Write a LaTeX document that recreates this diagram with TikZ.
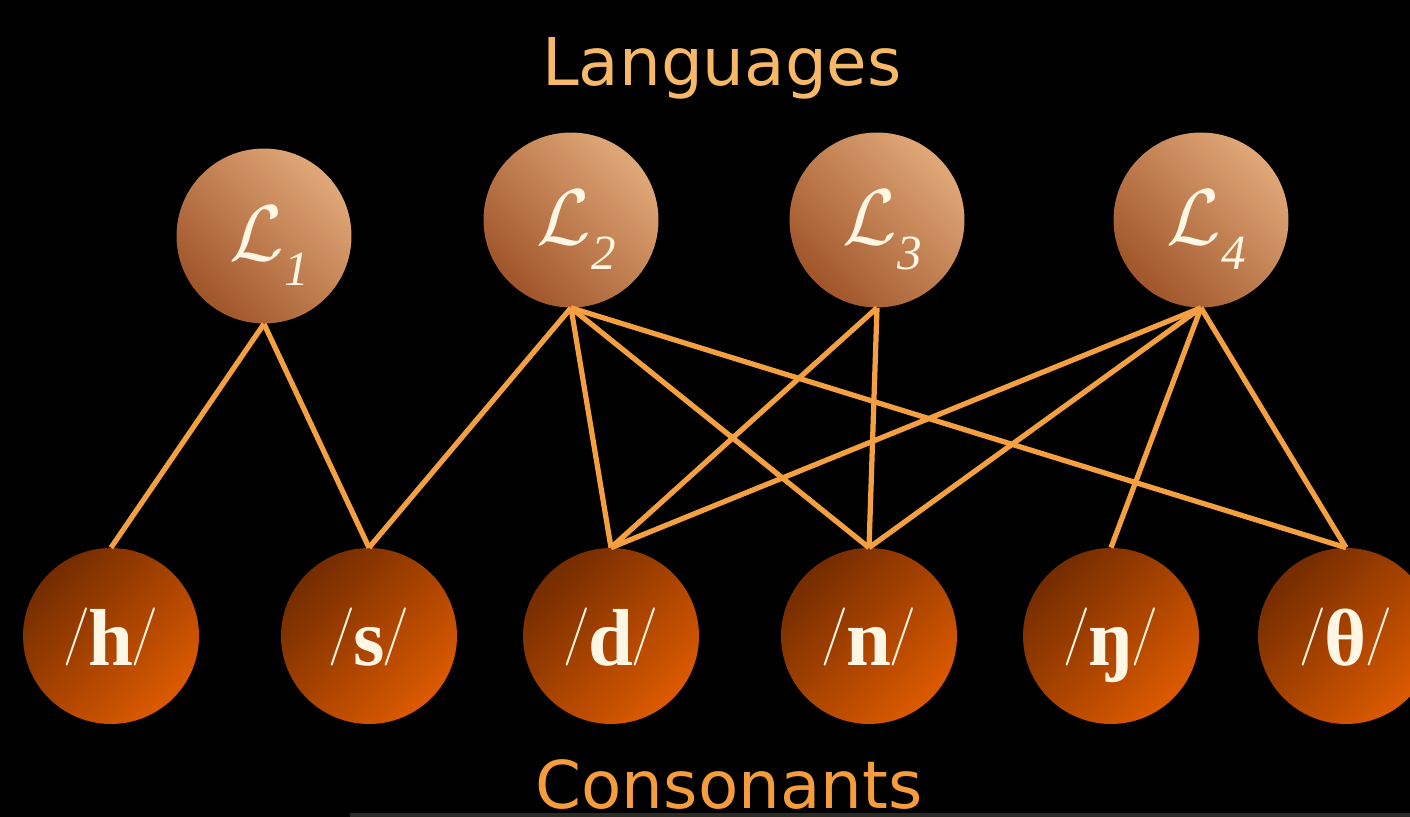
\documentclass[tikz,border=0pt]{standalone}
\usepackage{fix-cm}
\usepackage{graphicx}
\usepackage{fontspec}
\setmainfont{Liberation Serif}
\newfontfamily\labfont{DejaVu Sans}
\newfontfamily\slashfont{Latin Modern Roman}
\definecolor{langlight}{HTML}{E0A878}
\definecolor{langdark}{HTML}{A0552A}
\definecolor{consdark}{HTML}{742C00}
\definecolor{conslight}{HTML}{DC5A00}
\definecolor{cream}{HTML}{FFF6E4}
\definecolor{linkcol}{HTML}{F5A040}
\definecolor{toptext}{HTML}{F7B868}
\definecolor{bottext}{HTML}{F59C3C}
\definecolor{edgegray}{HTML}{2C2C26}
\newcommand{\langlab}[1]{\hspace*{6pt}{\fontsize{45}{45}\selectfont$\mathcal{L}$}\raisebox{-14.2pt}{\fontsize{28}{28}\selectfont\itshape #1}}
\newcommand{\thinslash}{\raisebox{0.18em}{\scalebox{0.72}{\slashfont /}}}
\newcommand{\conslab}[1]{\thinslash\kern-1pt\textbf{#1}\kern-1pt\thinslash}
\tikzset{
  lang/.style={circle, minimum size=3.5cm, inner sep=0pt, shading=axis,
    top color=langlight, bottom color=langdark, shading angle=-45,
    text=cream, text height=41.6pt, text depth=14.2pt},
  cons/.style={circle, minimum size=3.52cm, inner sep=0pt, shading=axis,
    top color=consdark, bottom color=conslight, shading angle=45,
    text=cream, font=\fontsize{46}{46}\selectfont, text height=34pt, text depth=0pt},
  link/.style={draw=linkcol, line width=0.105cm},
  heading/.style={font=\labfont\fontsize{37.5}{37.5}\selectfont, inner sep=0pt}
}
\begin{document}
\begin{tikzpicture}[x=0.02cm, y=-0.02cm]
  \fill[black] (0,0) rectangle (1410,817);
  \useasboundingbox (0,0) rectangle (1410,817);
  \fill[edgegray] (350,813) rectangle (1410,817);

  \node[heading, text=toptext, anchor=base] (top) at (722,86) {Languages};
  \node[heading, text=bottext, anchor=base] (bot) at (729,808) {Consonants};

  \node[lang] (L1) at (264,236) {\langlab{1}};
  \node[lang] (L2) at (571,220) {\langlab{2}};
  \node[lang] (L3) at (877,220) {\langlab{3}};
  \node[lang] (L4) at (1201,220) {\langlab{4}};

  \node[cons] (h) at (111,636) {\conslab{h}};
  \node[cons] (s) at (369,636) {\conslab{s}};
  \node[cons] (d) at (611,636) {\conslab{d}};
  \node[cons] (n) at (869,636) {\conslab{n}};
  \node[cons] (ng) at (1111,636) {\conslab{ŋ}};
  \node[cons] (th) at (1346,636) {\conslab{θ}};

  \draw[link] (L1.south) -- (h.north);
  \draw[link] (L1.south) -- (s.north);
  \draw[link] (L2.south) -- (s.north);
  \draw[link] (L2.south) -- (d.north);
  \draw[link] (L2.south) -- (n.north);
  \draw[link] (L2.south) -- (th.north);
  \draw[link] (L3.south) -- (d.north);
  \draw[link] (L3.south) -- (n.north);
  \draw[link] (L4.south) -- (d.north);
  \draw[link] (L4.south) -- (n.north);
  \draw[link] (L4.south) -- (ng.north);
  \draw[link] (L4.south) -- (th.north);
\end{tikzpicture}
\end{document}
